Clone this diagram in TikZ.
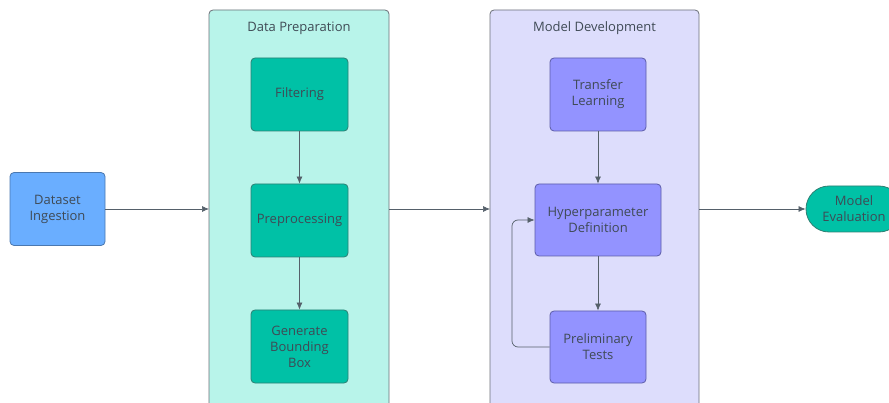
\documentclass[tikz,border=0pt]{standalone}
\usepackage{fontspec}
\setmainfont{Open Sans}
\usetikzlibrary{arrows.meta,shapes.misc}
\definecolor{txt}{HTML}{3F4A55}
\definecolor{edge}{HTML}{55606A}
\definecolor{dsfill}{HTML}{6AAEFF}
\definecolor{dsline}{HTML}{4A78B0}
\definecolor{prepbg}{HTML}{B8F4EA}
\definecolor{tealfill}{HTML}{00C1A6}
\definecolor{tealline}{HTML}{2E7F73}
\definecolor{devbg}{HTML}{DDDDFC}
\definecolor{purfill}{HTML}{9393FF}
\definecolor{purline}{HTML}{5C5CA8}
\definecolor{clusterline}{HTML}{6B6F78}
\tikzset{
  x=1pt, y=-1pt,
  lbl/.style={text=txt, font=\fontsize{13}{16}\selectfont},
  box/.style={draw, rounded corners=4pt, line width=0.8pt, lbl, align=center,
    inner sep=0pt, minimum width=97pt},
  ingest/.style={box, fill=dsfill, draw=dsline},
  tealbox/.style={box, fill=tealfill, draw=tealline},
  purbox/.style={box, fill=purfill, draw=purline},
  cluster/.style={draw=clusterline, rounded corners=4pt, line width=0.8pt},
  flow/.style={draw=edge, line width=0.7pt, -{Latex[length=7pt,width=6pt]}},
  ctitle/.style={lbl},
}
\begin{document}
\begin{tikzpicture}
\useasboundingbox (0,0) rectangle (889,403);
\clip (0,0) rectangle (889,403);

% clusters
\draw[cluster, fill=prepbg] (209,10) rectangle (389,420);
\node[ctitle] (prept) at (299,28) {Data Preparation};
\draw[cluster, fill=devbg] (490,10) rectangle (699,420);
\node[ctitle] (devt) at (594.5,28) {Model Development};

\coordinate (prepL) at (209,209);
\coordinate (prepR) at (389,209);
\coordinate (devL) at (490,209);
\coordinate (devR) at (699,209);

% nodes
\node[ingest, minimum width=95pt, minimum height=73pt] (ds) at (57.5,209) {Dataset\\Ingestion};
\node[tealbox, minimum height=73pt] (filt) at (299.5,94.5) {Filtering};
\node[tealbox, minimum height=73pt] (pre) at (299.5,220.5) {Preprocessing};
\node[tealbox, minimum height=73pt] (gbb) at (299.5,346.5) {Generate\\Bounding\\Box};
\node[purbox, minimum width=96pt, minimum height=73pt] (tl) at (598,94.5) {Transfer\\Learning};
\node[purbox, minimum width=126pt, minimum height=72pt] (hp) at (598,220) {Hyperparameter\\Definition};
\node[purbox, minimum width=96pt, minimum height=72pt] (pt) at (598,347) {Preliminary\\Tests};
\node[rounded rectangle, draw=tealline, fill=tealfill, line width=0.8pt, lbl,
      align=center, minimum width=96pt, minimum height=46pt, inner sep=0pt]
      (me) at (854,209) {Model\\Evaluation};

% connectors
\draw[flow] (ds.east) -- (prepL);
\draw[flow] (filt) -- (pre);
\draw[flow] (pre) -- (gbb);
\draw[flow] (prepR) -- (devL);
\draw[flow] (tl) -- (hp);
\draw[flow] (hp) -- (pt);
\draw[flow, rounded corners=6pt] (pt.west) -| (512,220) -- (hp.west);
\draw[flow] (devR) -- (me.west);
\end{tikzpicture}
\end{document}
